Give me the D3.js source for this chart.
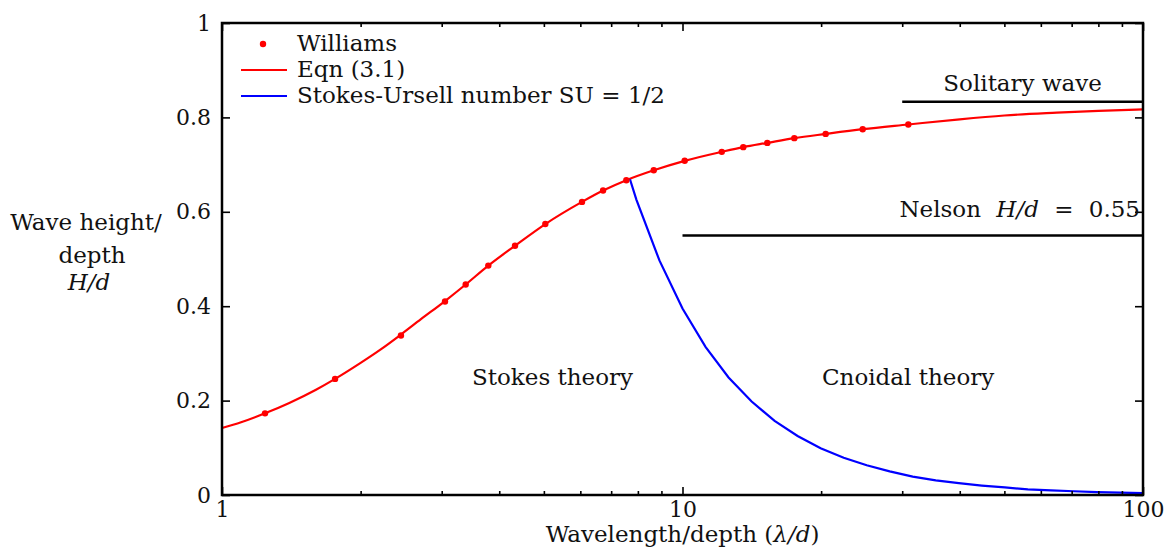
<!DOCTYPE html>
<html>
<head>
<meta charset="utf-8">
<script src="https://cdn.jsdelivr.net/npm/d3@7"></script>
<style>
  html, body { margin: 0; padding: 0; background: #fff; }
  svg text { font-family: "DejaVu Serif", "Liberation Serif", serif; fill: #111; }
</style>
</head>
<body>
<svg id="chart" width="1173" height="548"></svg>
<script>
// ---- data ----
const williamsX = [1.240, 1.760, 2.447, 3.050, 3.382, 3.787, 4.328, 5.036, 6.050, 6.722, 7.551, 8.661, 10.11, 12.17, 13.55, 15.28, 17.49, 20.46, 24.62, 30.93];
const williamsY = [0.173, 0.246, 0.338, 0.410, 0.446, 0.486, 0.528, 0.574, 0.621, 0.645, 0.667, 0.688, 0.708, 0.727, 0.737, 0.746, 0.756, 0.765, 0.775, 0.785];

const eqnX = [1, 1.1, 1.24, 1.4, 1.6, 1.76, 2, 2.2, 2.447, 2.7, 3.05, 3.382, 3.787, 4.328, 5.036, 6.05, 6.722, 7.551, 8.661, 10.11, 12.17, 13.55, 15.28, 17.49, 20.46, 24.62, 30.93, 40, 50, 65, 80, 100];
const eqnY = [0.142, 0.154, 0.173, 0.195, 0.223, 0.246, 0.280, 0.307, 0.340, 0.372, 0.411, 0.446, 0.486, 0.528, 0.574, 0.621, 0.645, 0.667, 0.688, 0.708, 0.727, 0.737, 0.746, 0.756, 0.765, 0.775, 0.785, 0.796, 0.804, 0.810, 0.814, 0.817];

const suX = [7.69, 7.94, 8.91, 10, 11.22, 12.59, 14.13, 15.85, 17.78, 19.95, 22.39, 25.12, 28.18, 31.62, 35.48, 39.81, 44.67, 50.12, 56.23, 63.10, 70.79, 79.43, 89.13, 100];
const suY = [0.669, 0.626, 0.497, 0.395, 0.314, 0.249, 0.198, 0.157, 0.125, 0.099, 0.079, 0.063, 0.050, 0.039, 0.031, 0.025, 0.020, 0.016, 0.012, 0.010, 0.0079, 0.0063, 0.0050, 0.0039];

const nelsonX = [10, 100];
const nelsonLevel = 0.55;
const solitaryX = [30, 100];
const solitaryLevel = 0.833;

const xMajorTicks = [1, 10, 100];
const xMinorTicks = [2, 3, 4, 5, 6, 7, 8, 9, 20, 30, 40, 50, 60, 70, 80, 90];
const yTicks = [0, 0.2, 0.4, 0.6, 0.8, 1];
const yTickLabels = ["0", "0.2", "0.4", "0.6", "0.8", "1"];

const legendLabels = ["Williams", "Eqn (3.1)", "Stokes-Ursell number SU = 1/2"];

// ---- layout ----
const W = 1173, H = 548;
const margin = {left: 222, right: 30, top: 23, bottom: 53};
const iw = W - margin.left - margin.right;
const ih = H - margin.top - margin.bottom;
const FS = 23;
const TFS = 22;
const FONT = '"DejaVu Serif", "Liberation Serif", serif';

const svg = d3.select("#chart");
const g = svg.append("g").attr("transform", `translate(${margin.left},${margin.top})`);

const x = d3.scaleLog().domain([1, 100]).range([0, iw]);
const y = d3.scaleLinear().domain([0, 1]).range([ih, 0]);

const RED = "#ff0000", BLUE = "#0000ff";

// curves
const line = d3.line().x(d => x(d[0])).y(d => y(d[1])).curve(d3.curveMonotoneX);
g.append("path").datum(eqnX.map((v, i) => [v, eqnY[i]]))
  .attr("d", line).attr("fill", "none").attr("stroke", RED).attr("stroke-width", 2.2);

const lineLin = d3.line().x(d => x(d[0])).y(d => y(d[1]));
g.append("path").datum(suX.map((v, i) => [v, suY[i]]))
  .attr("d", lineLin).attr("fill", "none").attr("stroke", BLUE).attr("stroke-width", 2.2);

g.selectAll("circle.w").data(williamsX.map((v, i) => [v, williamsY[i]]))
  .join("circle").attr("class", "w")
  .attr("cx", d => x(d[0])).attr("cy", d => y(d[1])).attr("r", 3.2).attr("fill", RED);

// horizontal reference lines
g.append("line").attr("x1", x(nelsonX[0])).attr("x2", x(nelsonX[1]))
  .attr("y1", y(nelsonLevel)).attr("y2", y(nelsonLevel))
  .attr("stroke", "#000").attr("stroke-width", 2.5);
g.append("line").attr("x1", x(solitaryX[0])).attr("x2", x(solitaryX[1]))
  .attr("y1", y(solitaryLevel)).attr("y2", y(solitaryLevel))
  .attr("stroke", "#000").attr("stroke-width", 2.5);

// axes
function styleAxis(sel) {
  sel.select(".domain").remove();
  sel.selectAll(".tick line").attr("stroke", "#000").attr("stroke-width", 1.6);
  sel.selectAll("text").style("font-size", TFS + "px").style("font-family", FONT).attr("fill", "#111");
}
const fmtX = d => String(d);
g.append("g").attr("transform", `translate(0,${ih})`)
  .call(d3.axisBottom(x).tickValues(xMajorTicks).tickFormat(fmtX).tickSizeInner(-8).tickSizeOuter(0).tickPadding(6))
  .call(styleAxis);
g.append("g").attr("transform", `translate(0,${ih})`)
  .call(d3.axisBottom(x).tickValues(xMinorTicks).tickFormat("").tickSizeInner(-4).tickSizeOuter(0))
  .call(styleAxis);
g.append("g")
  .call(d3.axisTop(x).tickValues(xMajorTicks).tickFormat("").tickSizeInner(-8).tickSizeOuter(0))
  .call(styleAxis);
g.append("g")
  .call(d3.axisTop(x).tickValues(xMinorTicks).tickFormat("").tickSizeInner(-4).tickSizeOuter(0))
  .call(styleAxis);
g.append("g")
  .call(d3.axisLeft(y).tickValues(yTicks).tickFormat((d, i) => yTickLabels[i]).tickSizeInner(-8).tickSizeOuter(0).tickPadding(11))
  .call(styleAxis);
g.append("g").attr("transform", `translate(${iw},0)`)
  .call(d3.axisRight(y).tickValues(yTicks).tickFormat("").tickSizeInner(-8).tickSizeOuter(0))
  .call(styleAxis);

// frame
g.append("rect").attr("x", 0).attr("y", 0).attr("width", iw).attr("height", ih)
  .attr("fill", "none").attr("stroke", "#000").attr("stroke-width", 2.5);

// axis titles
const xt = svg.append("text").attr("x", margin.left + x(10)).attr("y", 542)
  .attr("text-anchor", "middle").style("font-size", FS + "px");
xt.append("tspan").text("Wavelength/depth (");
xt.append("tspan").text("λ/").style("font-style", "italic");
xt.append("tspan").text("d").style("font-style", "italic");
xt.append("tspan").text(")");

const yt = svg.append("g");
yt.append("text").attr("x", 86).attr("y", 230).attr("text-anchor", "middle").style("font-size", FS + "px").text("Wave height/");
yt.append("text").attr("x", 92).attr("y", 263).attr("text-anchor", "middle").style("font-size", FS + "px").text("depth");
yt.append("text").attr("x", 89).attr("y", 290).attr("text-anchor", "middle").style("font-size", FS + "px").style("font-style", "italic").text("H/d");

// annotations
g.append("text").attr("x", 472 - margin.left).attr("y", 385 - margin.top).style("font-size", FS + "px").text("Stokes theory");
g.append("text").attr("x", 822 - margin.left).attr("y", 385 - margin.top).style("font-size", FS + "px").text("Cnoidal theory");
g.append("text").attr("x", x(Math.sqrt(solitaryX[0] * solitaryX[1]))).attr("y", y(solitaryLevel) - 11)
  .attr("text-anchor", "middle").style("font-size", FS + "px").text("Solitary wave");
const nt = g.append("text").attr("x", 1140 - margin.left).attr("y", y(nelsonLevel) - 18)
  .attr("text-anchor", "end").style("font-size", FS + "px");
nt.append("tspan").text("Nelson ");
nt.append("tspan").attr("dx", 8).text("H/d").style("font-style", "italic");
nt.append("tspan").attr("dx", 8).text(" = ");
nt.append("tspan").attr("dx", 8).text("0.55");

// legend
const lg = svg.append("g");
const legY = [44, 70, 96];
lg.append("circle").attr("cx", 263).attr("cy", legY[0]).attr("r", 3.2).attr("fill", RED);
lg.append("line").attr("x1", 241).attr("x2", 287).attr("y1", legY[1]).attr("y2", legY[1]).attr("stroke", RED).attr("stroke-width", 2.2);
lg.append("line").attr("x1", 241).attr("x2", 287).attr("y1", legY[2]).attr("y2", legY[2]).attr("stroke", BLUE).attr("stroke-width", 2.2);
legendLabels.forEach((t, i) => {
  lg.append("text").attr("x", 297).attr("y", legY[i] + 7).style("font-size", FS + "px").text(t);
});
</script>
</body>
</html>
